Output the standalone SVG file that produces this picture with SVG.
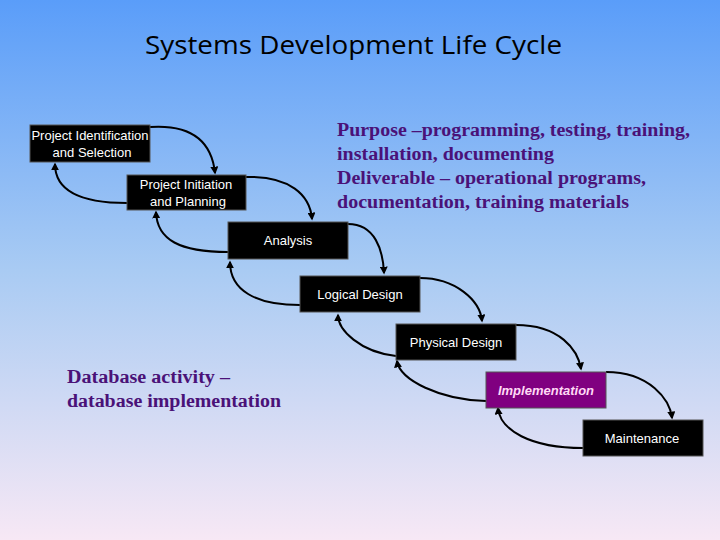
<svg xmlns="http://www.w3.org/2000/svg" width="720" height="540" viewBox="0 0 720 540">
<defs>
<linearGradient id="bg" x1="0" y1="0" x2="0" y2="1">
<stop offset="0" stop-color="#5a9df9"/>
<stop offset="0.5" stop-color="#a9cbf3"/>
<stop offset="1" stop-color="#f7e8f5"/>
</linearGradient>
<marker id="ah" viewBox="0 0 10 10" refX="8" refY="5" markerWidth="4" markerHeight="4" orient="auto"><path d="M0,0 L10,5 L0,10 z" fill="#000"/></marker>
<style>
.box{fill:#000;stroke:#555;stroke-width:1}
.lbl{font-family:"Liberation Sans",Arial,sans-serif;font-size:13px;fill:#fff;text-anchor:middle}
.c{fill:none;stroke:#000;stroke-width:2;marker-end:url(#ah)}
.note{font-family:"Liberation Serif","Times New Roman",serif;font-size:18px;font-weight:bold;fill:#4a1278}
</style>
</defs>
<rect width="720" height="540" fill="url(#bg)"/>
<text x="145" y="54" font-family="'Open Sans',sans-serif" font-size="26" textLength="417" lengthAdjust="spacingAndGlyphs" fill="#000">Systems Development Life Cycle</text>
<g id="connectors">
<path class="c" d="M150,127 C195,124 212,145 215,173"/>
<path class="c" d="M127,203 C80,203 55,190 55,164"/>
<path class="c" d="M246,177 C290,176 310,195 312,219"/>
<path class="c" d="M228,252 C180,252 157,240 156,212"/>
<path class="c" d="M348,224 C375,224 383,250 384,273"/>
<path class="c" d="M300,305 C255,305 230,290 230,262"/>
<path class="c" d="M420,278 C455,278 480,300 482,321"/>
<path class="c" d="M396,356 C360,352 338,330 338,315"/>
<path class="c" d="M516,325 C560,325 578,350 581,369"/>
<path class="c" d="M486,401 C440,400 400,380 397,361"/>
<path class="c" d="M606,372 C650,372 670,400 672,418"/>
<path class="c" d="M583,448 C530,448 500,430 498,408"/>
</g>
<g id="n1"><rect class="box" x="30" y="125" width="120" height="37"/><text class="lbl" x="90" y="140">Project Identification</text><text class="lbl" x="92" y="157">and Selection</text></g>
<g id="n2"><rect class="box" x="127" y="175" width="119" height="35"/><text class="lbl" x="186" y="189">Project Initiation</text><text class="lbl" x="188" y="206">and Planning</text></g>
<g id="n3"><rect class="box" x="228" y="222" width="120" height="37"/><text class="lbl" x="288" y="245">Analysis</text></g>
<g id="n4"><rect class="box" x="300" y="276" width="120" height="36"/><text class="lbl" x="360" y="299">Logical Design</text></g>
<g id="n5"><rect class="box" x="396" y="324" width="120" height="36"/><text class="lbl" x="456" y="347">Physical Design</text></g>
<g id="n6"><rect x="486" y="372" width="120" height="36" fill="#800080" stroke="#555"/><text class="lbl" x="546" y="395" font-weight="bold" font-style="italic" style="fill:#ffd9f5">Implementation</text></g>
<g id="n7"><rect class="box" x="583" y="420" width="120" height="36"/><text class="lbl" x="642" y="443">Maintenance</text></g>
<g id="notes">
<text class="note" x="337" y="136" textLength="353" lengthAdjust="spacingAndGlyphs">Purpose –programming, testing, training,</text>
<text class="note" x="337" y="160" textLength="217" lengthAdjust="spacingAndGlyphs">installation, documenting</text>
<text class="note" x="337" y="184" textLength="309" lengthAdjust="spacingAndGlyphs">Deliverable – operational programs,</text>
<text class="note" x="337" y="208" textLength="292" lengthAdjust="spacingAndGlyphs">documentation, training materials</text>
<text class="note" x="67" y="383" textLength="163" lengthAdjust="spacingAndGlyphs">Database activity –</text>
<text class="note" x="67" y="407" textLength="214" lengthAdjust="spacingAndGlyphs">database implementation</text>
</g>
</svg>
